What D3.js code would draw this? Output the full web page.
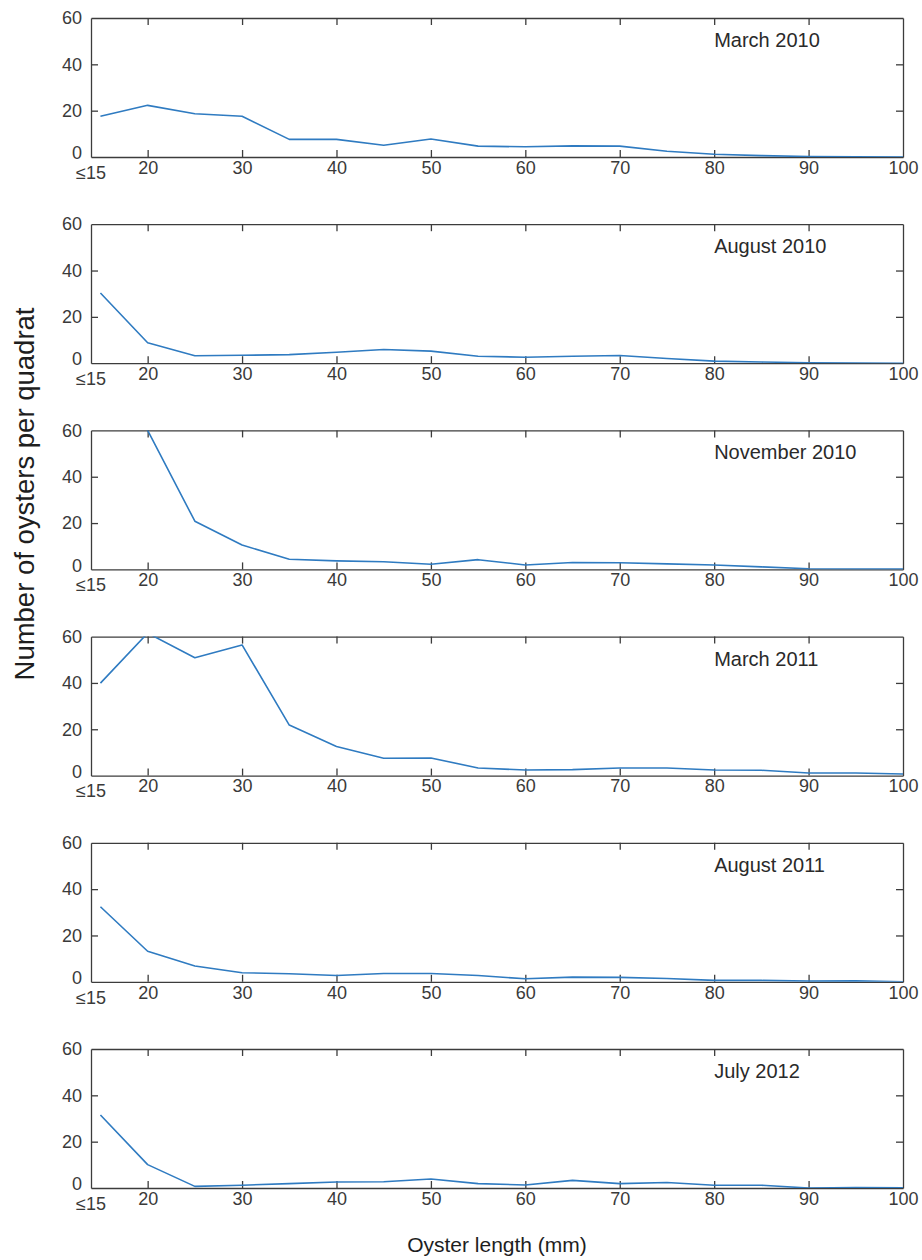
<!DOCTYPE html>
<html>
<head>
<meta charset="utf-8">
<script src="https://cdn.jsdelivr.net/npm/d3@7"></script>
<style>
  body { margin: 0; background: #fff; }
  svg { display: block; font-family: "Liberation Sans", Arial, sans-serif; }
  .tick-label { fill: #3a3a3a; font-size: 18px; }
  .panel-title { fill: #2a2a2a; font-size: 20px; }
  .axisText { fill: #1e1e1e; }
</style>
</head>
<body>
<div class="chart"></div>
<script>
// Size classes (mm) on the x axis
var lengths = [15, 20, 25, 30, 35, 40, 45, 50, 55, 60, 65, 70, 75, 80, 85, 90, 95, 100];
var xTicks = [20, 30, 40, 50, 60, 70, 80, 90, 100];
var yTicks = [0, 20, 40, 60];
var firstLabel = "\u226415";

// Survey names, one panel each
var surveys = ["March 2010", "August 2010", "November 2010", "March 2011", "August 2011", "July 2012"];

// Number of oysters per quadrat
var march2010 = [17.6, 22.3, 18.7, 17.6, 7.6, 7.6, 5.1, 7.8, 4.7, 4.4, 4.8, 4.7, 2.5, 1.2, 0.6, 0.2, 0.1, 0];
var august2010 = [30.3, 8.8, 3.2, 3.4, 3.7, 4.7, 5.9, 5.2, 3.0, 2.6, 3.0, 3.3, 2.0, 0.9, 0.5, 0.2, 0.1, 0];
var november2010 = [90, 60, 20.8, 10.5, 4.4, 3.7, 3.3, 2.2, 4.2, 1.9, 3.0, 2.9, 2.4, 1.9, 1.1, 0.3, 0.2, 0.2];
var march2011 = [39.9, 61.5, 50.9, 56.4, 21.8, 12.6, 7.5, 7.6, 3.3, 2.4, 2.6, 3.3, 3.3, 2.4, 2.3, 1.1, 1.1, 0.7];
var august2011 = [32.4, 13.2, 6.8, 3.9, 3.5, 2.7, 3.6, 3.6, 2.7, 1.3, 2.0, 1.9, 1.4, 0.6, 0.6, 0.3, 0.4, 0];
var july2012 = [31.5, 10.1, 0.7, 1.2, 1.9, 2.6, 2.7, 3.9, 1.9, 1.3, 3.3, 1.9, 2.4, 1.2, 1.2, 0, 0.2, 0.1];

var series = [march2010, august2010, november2010, march2011, august2011, july2012];

// Set SVG dimensions
var svgWidth = 922;
var svgHeight = 1260;

var margin = { left: 91, right: 19, top: 18 };
var width = svgWidth - margin.left - margin.right;
var panelHeight = 139;
var panelStep = 206.2;
var tickLen = 7;

var svg = d3.select(".chart")
  .append("svg")
  .attr("width", svgWidth)
  .attr("height", svgHeight);

// Scales shared by every panel
var xScale = d3.scaleLinear()
  .domain([14, 100])
  .range([0, width]);

var yScale = d3.scaleLinear()
  .domain([0, 60])
  .range([panelHeight, 0]);

var line = d3.line()
  .x((d, i) => xScale(lengths[i]))
  .y(d => yScale(d));

svg.append("defs")
  .append("clipPath")
  .attr("id", "plot-clip")
  .append("rect")
  .attr("width", width)
  .attr("height", panelHeight);

series.forEach(function (values, p) {
  var g = svg.append("g")
    .attr("transform", `translate(${margin.left}, ${margin.top + p * panelStep})`);

  // Axes: inward ticks on all four sides
  var bottom = g.append("g")
    .attr("transform", `translate(0, ${panelHeight})`)
    .call(d3.axisBottom(xScale).tickValues(xTicks).tickSizeInner(-tickLen).tickSizeOuter(0).tickPadding(4));
  var top = g.append("g")
    .call(d3.axisTop(xScale).tickValues(xTicks.slice(0, -1)).tickSizeInner(-tickLen).tickSizeOuter(0).tickFormat(""));
  var left = g.append("g")
    .call(d3.axisLeft(yScale).tickValues(yTicks).tickSizeInner(-tickLen).tickSizeOuter(0).tickPadding(9));
  var right = g.append("g")
    .attr("transform", `translate(${width}, 0)`)
    .call(d3.axisRight(yScale).tickValues(yTicks).tickSizeInner(-tickLen).tickSizeOuter(0).tickFormat(""));

  [bottom, top, left, right].forEach(function (ax) {
    ax.select(".domain").attr("stroke", "#3c3c3c").attr("stroke-width", 1.3);
    ax.selectAll(".tick line").attr("stroke", "#3c3c3c").attr("stroke-width", 1.3);
    ax.selectAll(".tick text").attr("class", "tick-label").attr("font-size", null).attr("font-family", null).attr("fill", null);
  });
  // hide tick marks at the frame corners
  bottom.selectAll(".tick").filter(d => d === 100).select("line").remove();
  left.selectAll(".tick").filter(d => d === 0 || d === 60).select("line").remove();
  right.selectAll(".tick").filter(d => d === 0 || d === 60).remove();

  // the "0" sits a little above the axis line so it clears the "<=15" label
  left.selectAll(".tick").filter(d => d === 0).select("text").attr("y", -4);

  // "<=15" label at the left end of the x axis
  g.append("text")
    .attr("class", "tick-label")
    .attr("x", xScale(14))
    .attr("y", panelHeight + 9)
    .attr("dy", "0.71em")
    .attr("text-anchor", "middle")
    .text(firstLabel);

  // Data line
  g.append("path")
    .datum(values)
    .attr("clip-path", "url(#plot-clip)")
    .attr("fill", "none")
    .attr("stroke", "#2f7bc1")
    .attr("stroke-width", 1.6)
    .attr("stroke-linejoin", "round")
    .attr("d", line);

  // Survey name
  g.append("text")
    .attr("class", "panel-title")
    .attr("x", xScale(80))
    .attr("y", 29)
    .text(surveys[p]);
});

// Create axes labels
svg.append("text")
  .attr("class", "axisText")
  .attr("transform", "translate(24, 494) rotate(-90)")
  .attr("text-anchor", "middle")
  .attr("dominant-baseline", "central")
  .attr("font-size", 27.5)
  .text("Number of oysters per quadrat");

svg.append("text")
  .attr("class", "axisText")
  .attr("x", margin.left + width / 2)
  .attr("y", 1252)
  .attr("text-anchor", "middle")
  .attr("font-size", 21)
  .text("Oyster length (mm)");
</script>
</body>
</html>
